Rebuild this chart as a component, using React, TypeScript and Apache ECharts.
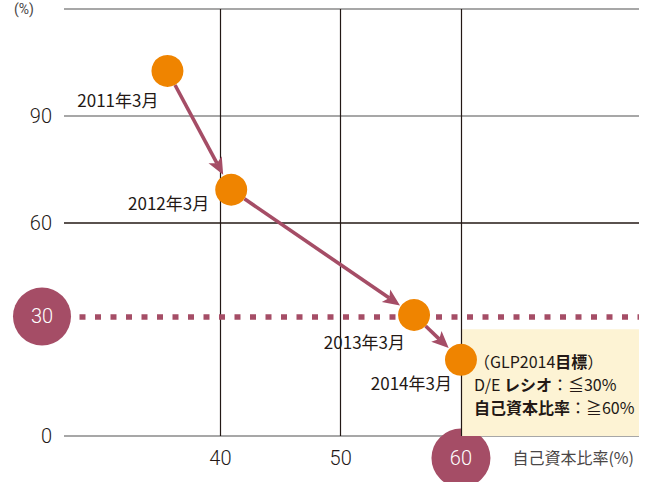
import React, { useEffect, useRef } from "react";
import * as echarts from "echarts";

// ---- data ----
const PERIODS = ["2011年3月", "2012年3月", "2013年3月", "2014年3月"];
const EQUITY_RATIO = [35.6, 40.9, 56.1, 60.0]; // 自己資本比率 (%)
const DE_RATIO = [102.6, 69.2, 34.0, 21.4]; // D/E レシオ (%)
const X_LABELS = [40, 50, 60];
const X_GRID = [40, 50, 60];
const Y_LABELS = [0, 60, 90];
const TARGET_EQUITY = 60;
const TARGET_DE = 30;
const TARGET_DE_LINE = 33.6; // where the dotted target line is drawn in the original
const X_MIN = 27;
const X_MAX = 74.8;
const Y_MIN = 0;
const Y_MAX = 120;

// ---- layout for point labels (pixel offsets from point centre) ----
const LABEL_OFFSETS = [
  [-9, 29],
  [-22, 13],
  [-9, 26],
  [-9, 23],
];

const MAROON = "#a54d66";
const ORANGE = "#ef8400";
const DARK = "#231815";
const GREY = "#8a8a8a";
const BEIGE = "#fdf3d4";
const CJK = "'Noto Sans CJK JP', 'Noto Sans', sans-serif";
const NUM = "Roboto, 'Noto Sans', sans-serif";

export default function App() {
  const ref = useRef<HTMLDivElement>(null);

  useEffect(() => {
    if (!ref.current) return;
    const chart = echarts.init(ref.current, undefined, { renderer: "svg" });

    const points = PERIODS.map((p, i) => ({
      name: p,
      value: [EQUITY_RATIO[i], DE_RATIO[i]],
      label: { offset: LABEL_OFFSETS[i] },
    }));

    const segments: number[][] = [];
    for (let i = 0; i < EQUITY_RATIO.length - 1; i++) {
      segments.push([EQUITY_RATIO[i], DE_RATIO[i], EQUITY_RATIO[i + 1], DE_RATIO[i + 1]]);
    }

    const option: any = {
      animation: false,
      backgroundColor: "#ffffff",
      grid: { left: 64, right: 6, top: 9, bottom: 46, containLabel: false, outerBoundsMode: "none" },
      xAxis: {
        type: "value",
        min: X_MIN,
        max: X_MAX,
        name: "自己資本比率(%)",
        nameLocation: "end",
        nameGap: -5,
        nameTextStyle: {
          fontFamily: CJK,
          fontSize: 16,
          color: "#4a4646",
          align: "right",
          verticalAlign: "top",
          padding: [13, 0, 0, 0],
        },
        axisLine: { show: false },
        axisTick: { show: false },
        splitLine: { show: false },
        axisLabel: {
          customValues: X_LABELS,
          margin: 22,
          verticalAlign: "middle",
          color: DARK,
          fontFamily: NUM,
          fontWeight: 300,
          fontSize: 20,
          formatter: (v: number) => {
            if (X_LABELS.indexOf(v) < 0) return "";
            return v === TARGET_EQUITY ? "{c|" + v + "}" : "{n|" + v + "}";
          },
          rich: {
            n: { fontFamily: NUM, fontWeight: 300, fontSize: 20, color: DARK },
            c: {
              fontFamily: NUM,
              fontWeight: 300,
              fontSize: 20,
              color: "#ffffff",
              backgroundColor: MAROON,
              borderRadius: 30,
              width: 59,
              height: 59,
              lineHeight: 59,
              align: "center",
            },
          },
        },
      },
      yAxis: {
        type: "value",
        min: Y_MIN,
        max: Y_MAX,
        interval: 30,
        name: "(%)",
        nameLocation: "end",
        nameGap: 0,
        nameTextStyle: {
          fontFamily: NUM,
          fontSize: 14,
          color: "#4a4646",
          align: "right",
          verticalAlign: "middle",
          padding: [0, 30, 0, 0],
        },
        axisLine: { show: false },
        axisTick: { show: false },
        axisLabel: {
          margin: 12,
          color: DARK,
          fontFamily: NUM,
          fontWeight: 300,
          fontSize: 20,
          formatter: (v: number) => (Y_LABELS.indexOf(v) >= 0 ? String(v) : ""),
        },
        splitLine: {
          show: true,
          lineStyle: {
            color: [GREY, "rgba(0,0,0,0)", DARK, GREY, GREY],
            width: 1.5,
          },
        },
      },
      series: [
        {
          type: "line",
          name: "frame",
          data: [],
          z: 1,
          silent: true,
          markArea: {
            silent: true,
            z: 1,
            itemStyle: { color: BEIGE },
            label: {
              show: true,
              position: "insideTopLeft",
              distance: 0,
              padding: [20, 0, 0, 13],
              formatter:
                "{n|（GLP2014}{b|目標}{n|）}\n{n|D/E }{b|レシオ}{n|：≦" +
                TARGET_DE +
                "%}\n{b|自己資本比率}{n|：≧" +
                TARGET_EQUITY +
                "%}",
              rich: {
                n: { fontFamily: CJK, fontSize: 16, color: DARK, lineHeight: 23 },
                b: { fontFamily: CJK, fontSize: 16, color: DARK, lineHeight: 23, fontWeight: "bold" },
              },
            },
            data: [[{ coord: [TARGET_EQUITY, 0] }, { coord: [X_MAX, TARGET_DE] }]],
          },
          markLine: {
            silent: true,
            z: 2,
            symbol: ["none", "none"],
            label: { show: false },
            lineStyle: { color: DARK, width: 1.2, type: "solid" },
            data: X_GRID.map((x) => ({ xAxis: x })),
          },
        },
        {
          type: "line",
          name: "target",
          data: [],
          z: 3,
          silent: true,
          markLine: {
            silent: true,
            z: 3,
            symbol: ["none", "none"],
            lineStyle: { color: MAROON, width: 5.5, type: [6, 9.5], cap: "butt" },
            label: {
              show: true,
              position: "start",
              distance: -7,
              formatter: "{c|" + TARGET_DE + "}",
              rich: {
                c: {
                  fontFamily: NUM,
                  fontWeight: 300,
                  fontSize: 20,
                  color: "#ffffff",
                  backgroundColor: MAROON,
                  borderRadius: 30,
                  width: 58,
                  height: 58,
                  lineHeight: 58,
                  align: "center",
                },
              },
            },
            data: [{ yAxis: TARGET_DE_LINE }],
          },
        },
        {
          type: "custom",
          name: "arrows",
          z: 4,
          silent: true,
          encode: { x: [0, 2], y: [1, 3] },
          data: segments,
          renderItem: (params: any, api: any) => {
            const p1 = api.coord([api.value(0), api.value(1)]);
            const p2 = api.coord([api.value(2), api.value(3)]);
            const dx = p2[0] - p1[0];
            const dy = p2[1] - p1[1];
            const len = Math.sqrt(dx * dx + dy * dy) || 1;
            const ux = dx / len;
            const uy = dy / len;
            const nx = -uy;
            const ny = ux;
            const sx = p1[0] + ux * 16;
            const sy = p1[1] + uy * 16;
            const tx = p2[0] - ux * 17;
            const ty = p2[1] - uy * 17;
            const headLen = 17;
            const headHalf = 7.5;
            const bx = tx - ux * headLen;
            const by = ty - uy * headLen;
            return {
              type: "group",
              children: [
                {
                  type: "line",
                  shape: { x1: sx, y1: sy, x2: bx + ux * 4, y2: by + uy * 4 },
                  style: { stroke: MAROON, lineWidth: 3.6 },
                },
                {
                  type: "polygon",
                  shape: {
                    points: [
                      [tx, ty],
                      [bx + nx * headHalf, by + ny * headHalf],
                      [bx + ux * 4, by + uy * 4],
                      [bx - nx * headHalf, by - ny * headHalf],
                    ],
                  },
                  style: { fill: MAROON },
                },
              ],
            };
          },
        },
        {
          type: "scatter",
          name: "points",
          z: 10,
          symbol: "circle",
          symbolSize: 32,
          itemStyle: { color: ORANGE, opacity: 1 },
          label: {
            show: true,
            position: "inside",
            align: "right",
            verticalAlign: "middle",
            fontFamily: CJK,
            fontSize: 17,
            color: DARK,
            formatter: (p: any) => p.name,
          },
          data: points,
        },
      ],
    };

    chart.setOption(option);
    return () => chart.dispose();
  }, []);

  return (
    <div
      ref={ref}
      style={{ position: "fixed", left: 0, top: 0, width: 645, height: 482, background: "#fff" }}
    />
  );
}
